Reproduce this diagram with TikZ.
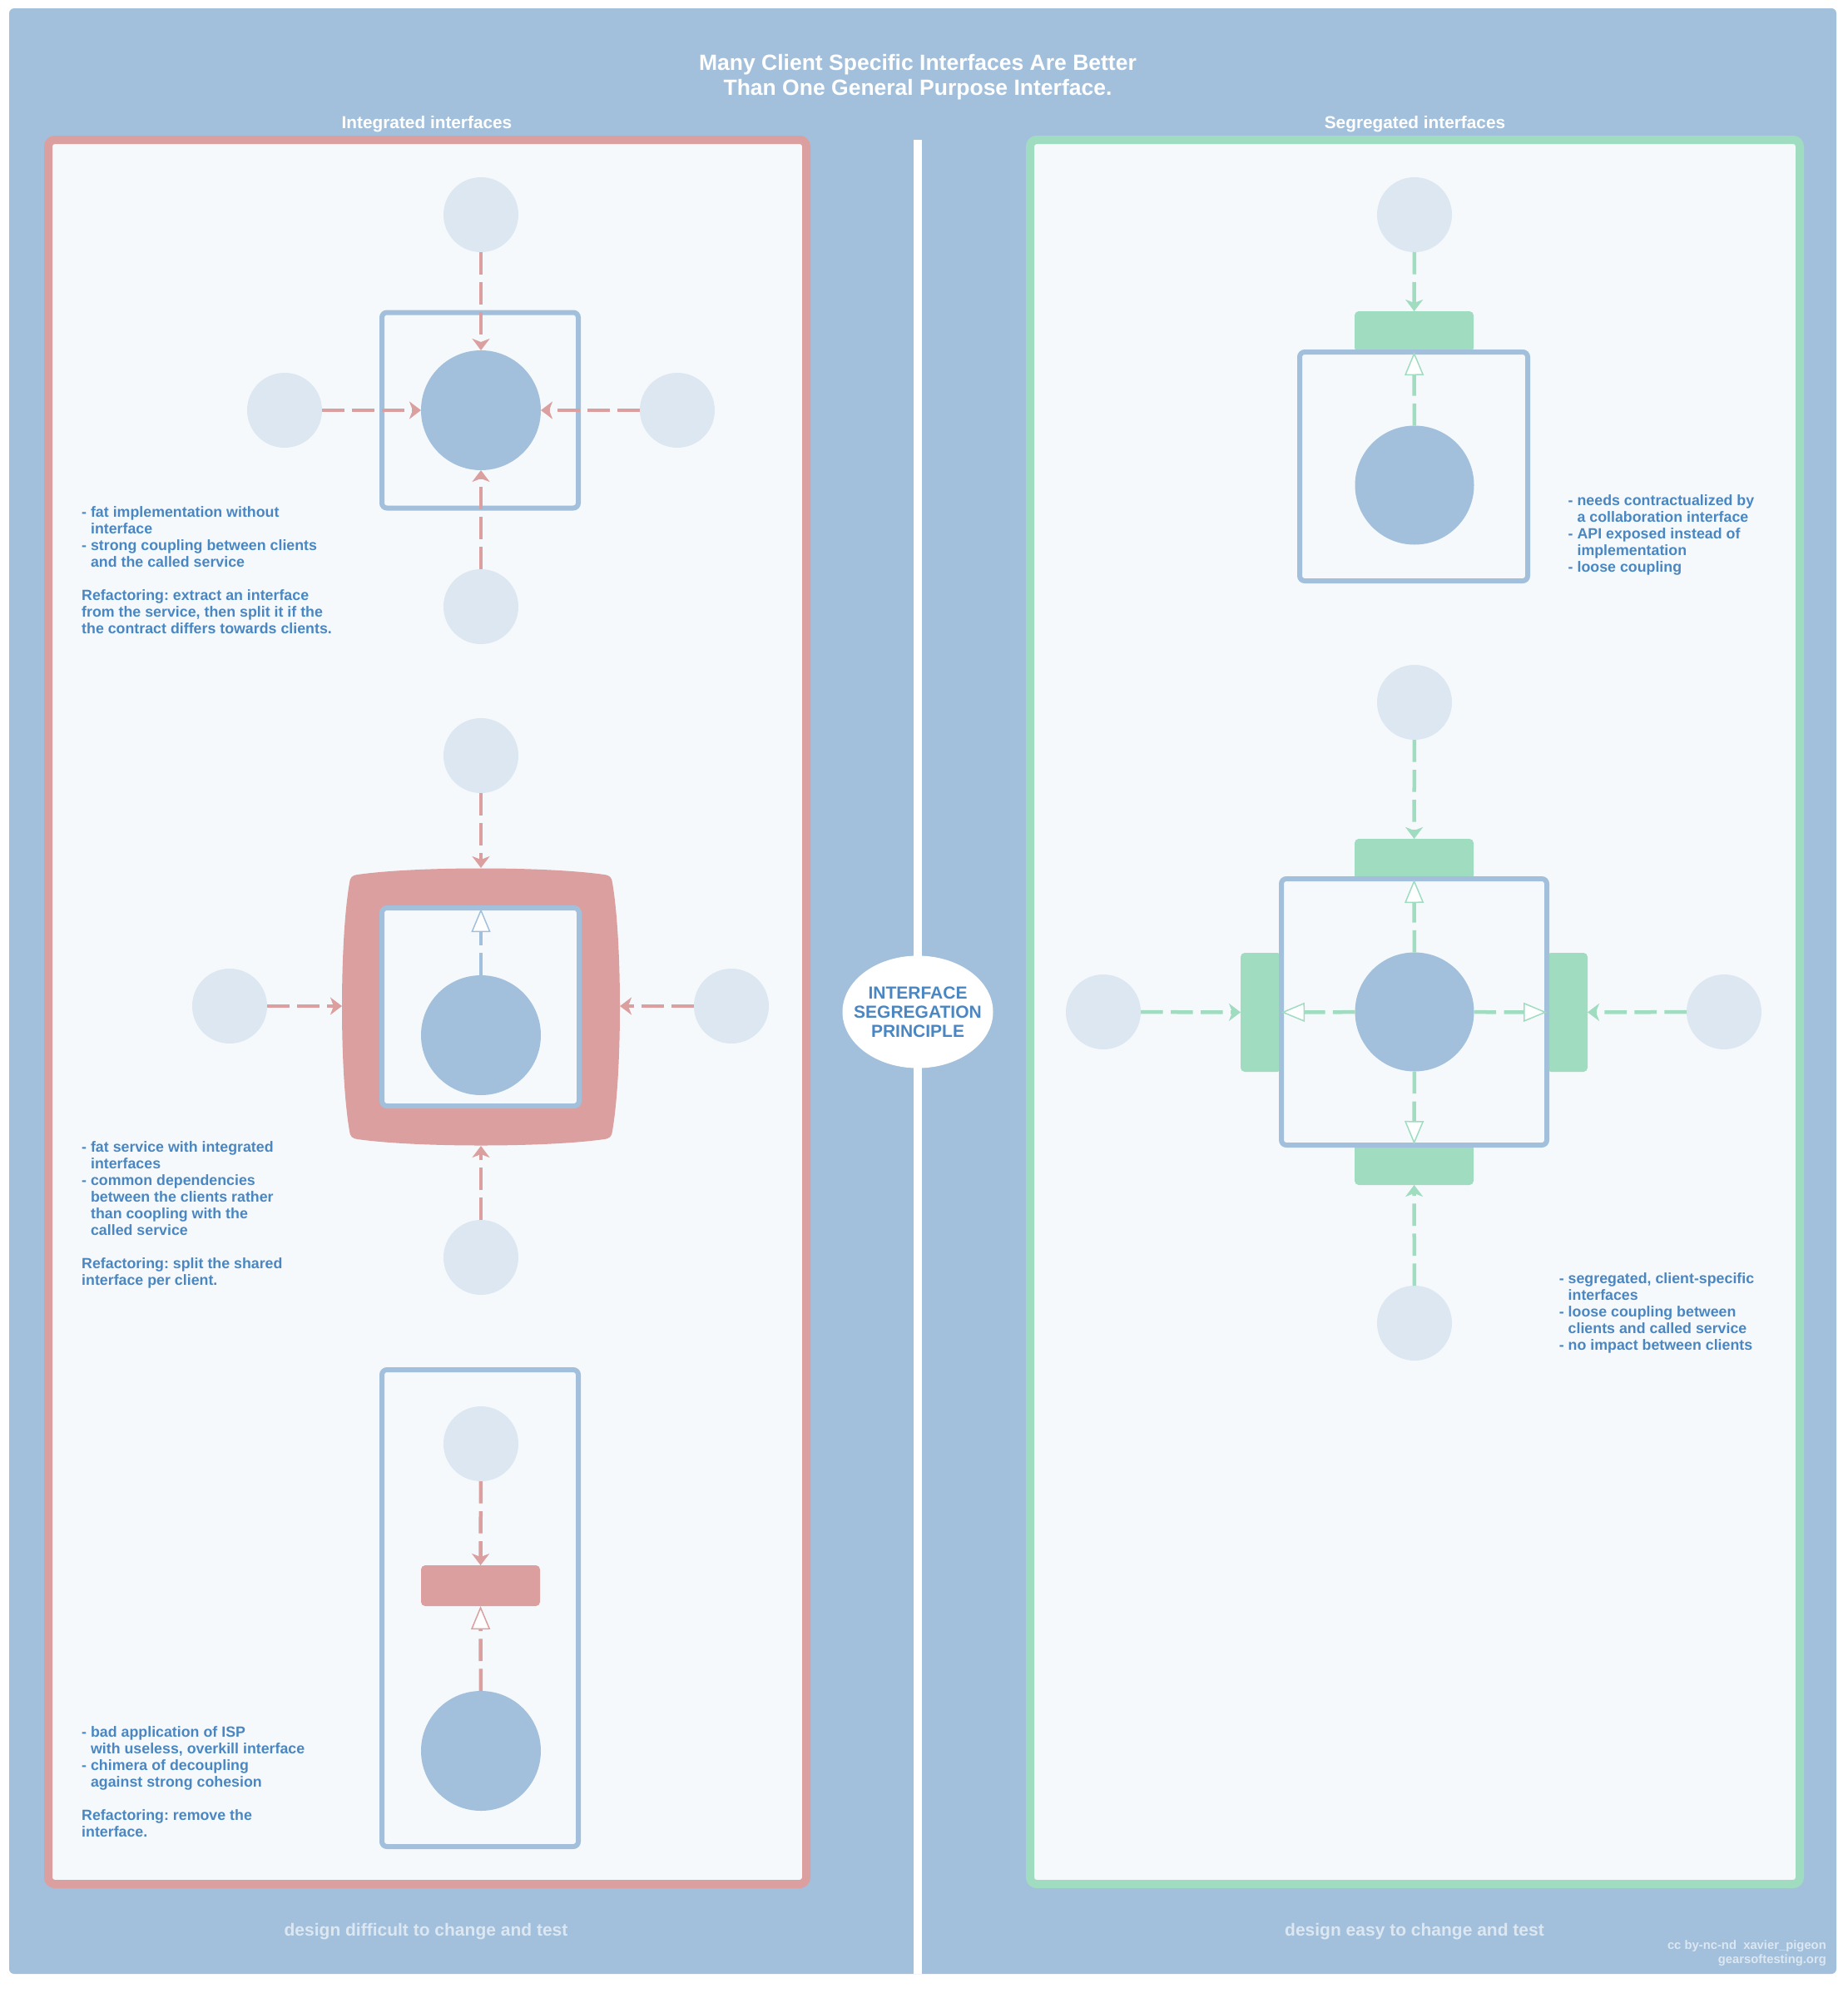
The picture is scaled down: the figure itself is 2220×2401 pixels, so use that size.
\documentclass[tikz,border=0pt]{standalone}
\usepackage{fontspec}
\setmainfont{Liberation Sans}
\usetikzlibrary{arrows.meta,shapes.geometric,calc}
\definecolor{bgblue}{HTML}{A2C0DC}
\definecolor{clientc}{HTML}{DCE7F1}
\definecolor{panelf}{HTML}{F5F9FC}
\definecolor{redc}{HTML}{DB9F9F}
\definecolor{greenc}{HTML}{9FDCC0}
\definecolor{txtblue}{HTML}{4A87C2}
\definecolor{lightc}{HTML}{DCE7F1}
\frenchspacing
\begin{document}
\begin{tikzpicture}[x=1pt,y=-1pt,
 client/.style={circle, fill=clientc, minimum size=90pt, inner sep=0pt, outer sep=0pt},
 service/.style={circle, fill=bgblue, minimum size=144pt, inner sep=0pt, outer sep=0pt},
 boxc/.style={rectangle, draw=bgblue, line width=6pt, fill=panelf, rounded corners=6pt, inner sep=0pt},
 iface/.style={rectangle, rounded corners=5pt, inner sep=0pt, outer sep=0pt, minimum width=143pt, minimum height=49pt},
 ifacev/.style={rectangle, rounded corners=5pt, inner sep=0pt, outer sep=0pt, minimum width=49pt, minimum height=143pt},
 dep/.style={dash pattern=on 26.7pt off 9.3pt, line width=4.5pt, -{Stealth[length=14pt,width=21pt,inset=4pt]}},
 realz/.style={dash pattern=on 26.7pt off 9.3pt, line width=4.5pt, -{Triangle[open,fill=white,length=28pt,width=23pt,line width=1.5pt]}},
 body/.style={font=\fontsize{17.8}{20}\selectfont\bfseries\frenchspacing, text=txtblue, inner sep=0pt, anchor=base west},
 ptitle/.style={font=\fontsize{20.8}{24}\selectfont\bfseries, text=white, inner sep=0pt, anchor=base},
 foot/.style={font=\fontsize{21}{24}\selectfont\bfseries, text=lightc, inner sep=0pt, anchor=base},
]
\useasboundingbox (0,0) rectangle (2220,2401);
\fill[white] (0,0) rectangle (2220,2401);
% background
\fill[bgblue, rounded corners=6pt] (11,10) rectangle (2207,2372);
% title
\node[font=\fontsize{26.5}{29.5}\selectfont\bfseries, text=white, inner sep=0pt, anchor=base] (title) at (1103,84.5)
 {\begin{tabular}[t]{@{}c@{}}Many Client Specific Interfaces Are Better\\Than One General Purpose Interface.\end{tabular}};
% panels
\draw[redc, line width=10pt, fill=panelf, rounded corners=8pt] (58,168) rectangle (969,2264);
\draw[greenc, line width=10pt, fill=panelf, rounded corners=8pt] (1238,168) rectangle (2163,2264);
\node[ptitle] (lt) at (513,154) {Integrated interfaces};
\node[ptitle] (rt) at (1700.5,154) {Segregated interfaces};
% divider and ISP
\draw[white, line width=10pt] (1103,168) -- (1103,2372);
\node[ellipse, fill=white, minimum width=181pt, minimum height=135pt, inner sep=0pt] (isp) at (1103,1216) {};
\node[font=\fontsize{21}{23}\selectfont\bfseries, text=txtblue, inner sep=0pt, anchor=base] (ispt) at (1103,1200.5)
 {\begin{tabular}[t]{@{}c@{}}INTERFACE\\SEGREGATION\\PRINCIPLE\end{tabular}};

% ---------- left top ----------
\node[boxc, minimum width=236pt, minimum height=235pt] (b1) at (577,493) {};
\node[service] (s1) at (578,493) {};
\node[client] (c1t) at (578,258) {};
\node[client] (c1l) at (342,493) {};
\node[client] (c1r) at (814,493) {};
\node[client] (c1b) at (578,729) {};
\draw[dep, redc] (c1t) -- (s1);
\draw[dep, redc] (c1l) -- (s1);
\draw[dep, redc] (c1r) -- (s1);
\draw[dep, redc] (c1b) -- (s1);
\node[body] (t1) at (98,621.5) {\begin{tabular}[t]{@{}l@{}}- fat implementation without\\\hphantom{- }interface\\- strong coupling between clients\\\hphantom{- }and the called service\\ \\Refactoring: extract an interface\\from the service, then split it if the\\the contract differs towards clients.\end{tabular}};

% ---------- left middle ----------
\fill[redc] (430,1051) .. controls (500,1041) and (656,1041) .. (726,1051)
  .. controls (733,1052) and (735,1054) .. (736,1061)
  .. controls (748,1131) and (748,1289) .. (736,1359)
  .. controls (735,1366) and (733,1368) .. (726,1369)
  .. controls (656,1379) and (500,1379) .. (430,1369)
  .. controls (423,1368) and (421,1366) .. (420,1359)
  .. controls (408,1289) and (408,1131) .. (420,1061)
  .. controls (421,1054) and (423,1052) .. (430,1051) -- cycle;
\coordinate (f2t) at (578,1043);
\coordinate (f2l) at (411,1209);
\coordinate (f2r) at (745,1209);
\coordinate (f2b) at (578,1377);
\node[boxc, minimum width=237pt, minimum height=238pt] (b2) at (577.5,1210) {};
\node[service] (s2) at (578,1244) {};
\coordinate (b2in) at (578,1092);
\node[client] (c2t) at (578,908) {};
\node[client] (c2l) at (276,1209) {};
\node[client] (c2r) at (879,1209) {};
\node[client] (c2b) at (578,1511) {};
\draw[dep, redc] (c2t) -- (f2t);
\draw[dep, redc] (c2l) -- (f2l);
\draw[dep, redc] (c2r) -- (f2r);
\draw[dep, redc] (c2b) -- (f2b);
\draw[realz, bgblue] (s2) -- (b2in);
\node[body] (t2) at (98,1384) {\begin{tabular}[t]{@{}l@{}}- fat service with integrated\\\hphantom{- }interfaces\\- common dependencies\\\hphantom{- }between the clients rather\\\hphantom{- }than coopling with the\\\hphantom{- }called service\\ \\Refactoring: split the shared\\interface per client.\end{tabular}};

% ---------- left bottom ----------
\node[boxc, minimum width=236pt, minimum height=573pt] (b3) at (577,1932.5) {};
\node[iface, fill=redc] (i3) at (577.5,1905.5) {};
\node[client] (c3) at (578,1735) {};
\node[service] (s3) at (578,2104) {};
\draw[dep, redc] (c3) -- (i3);
\draw[realz, redc] (s3) -- (i3);
\node[body] (t3) at (98,2087.5) {\begin{tabular}[t]{@{}l@{}}- bad application of ISP\\\hphantom{- }with useless, overkill interface\\- chimera of decoupling\\\hphantom{- }against strong cohesion\\ \\Refactoring: remove the\\interface.\end{tabular}};

% ---------- right top ----------
\node[iface, fill=greenc] (g1) at (1699.5,398.5) {};
\node[boxc, minimum width=274pt, minimum height=275pt] (b4) at (1699,560.5) {};
\node[service, minimum size=143pt] (s4) at (1700,583) {};
\node[client] (c4) at (1700,258) {};
\draw[dep, greenc] (c4) -- (g1);
\draw[realz, greenc] (s4) -- (g1);
\node[body] (t4) at (1884.5,607.5) {\begin{tabular}[t]{@{}l@{}}- needs contractualized by\\\hphantom{- }a collaboration interface\\- API exposed instead of\\\hphantom{- }implementation\\- loose coupling\end{tabular}};

% ---------- right bottom ----------
\node[iface, fill=greenc] (g2) at (1699.5,1032.5) {};
\node[ifacev, fill=greenc] (g3) at (1515.5,1216.5) {};
\node[ifacev, fill=greenc] (g4) at (1883.5,1216.5) {};
\node[iface, fill=greenc] (g5) at (1699.5,1399.5) {};
\node[boxc, minimum width=319pt, minimum height=320pt] (b5) at (1699.5,1216) {};
\node[service, minimum size=143pt] (s5) at (1700,1216) {};
\node[client] (c5t) at (1700,844) {};
\node[client] (c5l) at (1326,1216) {};
\node[client] (c5r) at (2072,1216) {};
\node[client] (c5b) at (1700,1590) {};
\draw[dep, greenc] (c5t) -- (g2);
\draw[dep, greenc] (c5l) -- (g3);
\draw[dep, greenc] (c5r) -- (g4);
\draw[dep, greenc] (c5b) -- (g5);
\draw[realz, greenc] (s5) -- (g2);
\draw[realz, greenc] (s5) -- (g3);
\draw[realz, greenc] (s5) -- (g4);
\draw[realz, greenc] (s5) -- (g5);
\node[body] (t5) at (1873.6,1542.4) {\begin{tabular}[t]{@{}l@{}}- segregated, client-specific\\\hphantom{- }interfaces\\- loose coupling between\\\hphantom{- }clients and called service\\- no impact between clients\end{tabular}};

% ---------- footers ----------
\node[foot] (fl) at (512,2326) {design difficult to change and test};
\node[foot] (fr) at (1700,2326) {design easy to change and test};
\node[font=\fontsize{14.8}{16.5}\selectfont\bfseries, text=lightc, inner sep=0pt, anchor=base east] (cred) at (2195,2342.7)
 {\begin{tabular}[t]{@{}r@{}}cc by-nc-nd\ \ xavier\_pigeon\\gearsoftesting.org\end{tabular}};
\end{tikzpicture}
\end{document}
